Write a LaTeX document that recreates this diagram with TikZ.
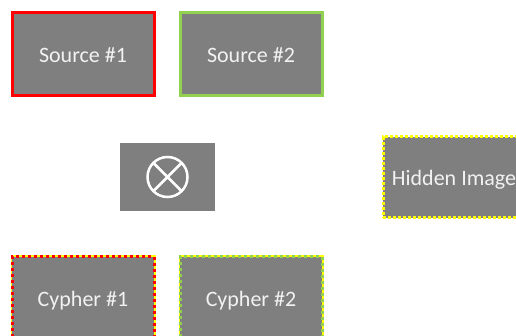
\documentclass[tikz,border=0pt]{standalone}
\usepackage{fontspec}
\setmainfont{Carlito}
\definecolor{boxgray}{HTML}{7F7F7F}
\definecolor{txtgray}{HTML}{F2F2F2}
\definecolor{srcred}{HTML}{FF0000}
\definecolor{srcgreen}{HTML}{92D050}
\definecolor{hidyellow}{HTML}{FFFF00}
\newcommand{\boxlabel}[1]{\raisebox{-8pt}[0pt][0pt]{#1}}
\begin{document}
\begin{tikzpicture}[x=1pt,y=-1pt,
  box/.style={fill=boxgray, text=txtgray, minimum width=142pt, minimum height=83pt,
    inner sep=0pt, line width=3pt, font=\fontsize{22}{26}\selectfont},
  twotone/.style={preaction={draw=hidyellow, solid, line width=3pt}, draw=#1, dash pattern=on 3pt off 3pt}
]
\useasboundingbox (0,0) rectangle (516,336);
\clip (0,0) rectangle (516,336);
\node[box, draw=srcred] (s1) at (83,54.5) {\boxlabel{Source \#1}};
\node[box, draw=srcgreen] (s2) at (251,54.5) {\boxlabel{Source \#2}};
\node[box, minimum width=95pt, minimum height=68pt] (op) at (167.5,177) {};
\draw[white, line width=2.5pt] (op.center) circle (20pt)
  (op.center) ++(-14.1,-14.1) -- ++(28.2,28.2)
  (op.center) ++(-14.1,14.1) -- ++(28.2,-28.2);
\node[box, minimum height=81pt, draw=hidyellow, line width=3pt, dash pattern=on 3pt off 2pt] (hid) at (454,177.5) {\boxlabel{Hidden Image}};
\node[box, twotone=srcred] (c1) at (83,298.5) {\boxlabel{Cypher \#1}};
\node[box, twotone=srcgreen] (c2) at (251,298.5) {\boxlabel{Cypher \#2}};
\end{tikzpicture}
\end{document}
